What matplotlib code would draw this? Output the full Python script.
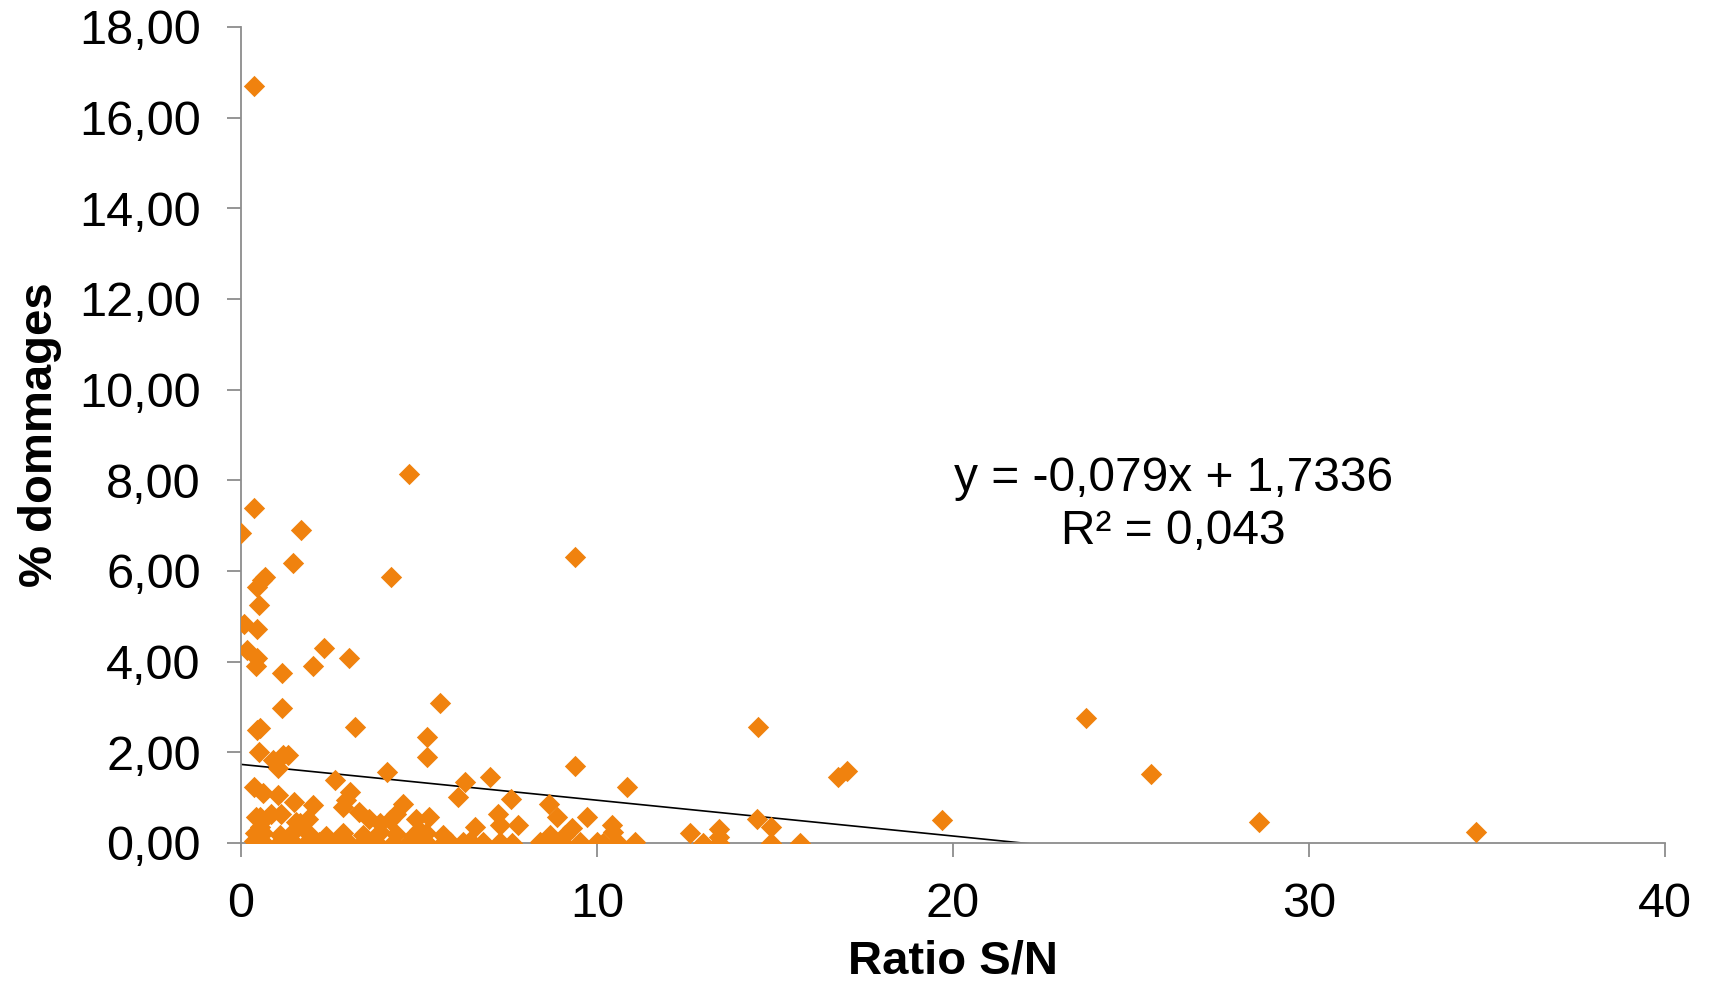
import matplotlib.pyplot as plt
from matplotlib.ticker import FuncFormatter

# points (Ratio S/N, % dommages)
ratio_sn = [
    0.37, 4.73, 0.37, 0.00, 1.69, 1.47, 9.38, 4.20, 0.67, 0.60,
    0.44, 0.49, 0.09, 0.44, 2.34, 3.04, 0.16, 0.44, 0.42, 2.03,
    1.14, 5.59, 1.14, 3.20, 14.53, 23.74, 0.44, 0.53, 5.21, 5.21,
    0.49, 0.91, 1.19, 1.33, 1.05, 9.38, 25.55, 4.09, 6.98, 6.29,
    2.64, 16.78, 17.01, 10.83, 6.10, 19.68, 28.60, 34.70, 14.49, 14.88,
    14.88, 15.70, 12.61, 12.97, 13.43, 13.43, 13.43,
    0.37, 0.61, 1.03, 3.06, 1.50, 2.01, 2.86, 2.95,
    0.52, 1.12, 1.55, 1.87, 0.43, 0.58, 0.83, 1.66,
    3.32, 3.60, 3.89, 4.54, 4.35, 4.17, 4.92, 5.29, 5.01,
    7.58, 8.65, 7.23, 8.87, 9.71, 6.57, 7.28, 7.79, 9.29, 10.41,
    10.46, 8.68, 9.10,
    0.61, 1.08, 1.45, 1.92, 2.39, 2.86, 3.42, 3.89, 4.35, 4.82, 5.20, 5.66,
    0.61, 1.08, 1.45, 1.83, 2.20, 2.67, 3.04, 3.42, 3.79, 4.26, 4.73, 5.20, 5.66,
    5.87, 6.24, 6.43, 6.81, 7.28, 7.60, 8.40, 8.77, 9.05, 9.52, 9.99, 10.18,
    10.55, 11.07,
    0.40, 0.52, 0.35,
]
dommages = [
    16.70, 8.15, 7.40, 6.83, 6.90, 6.17, 6.31, 5.87, 5.87, 5.80,
    5.65, 5.26, 4.84, 4.72, 4.31, 4.07, 4.26, 4.07, 3.90, 3.90,
    3.76, 3.08, 2.97, 2.56, 2.56, 2.75, 2.49, 2.54, 2.33, 1.90,
    2.01, 1.83, 1.94, 1.94, 1.65, 1.70, 1.52, 1.57, 1.46, 1.35,
    1.39, 1.46, 1.59, 1.23, 1.02, 0.51, 0.46, 0.24, 0.54, 0.36,
    0.00, 0.00, 0.21, 0.00, 0.31, 0.13, 0.00,
    1.24, 1.10, 1.06, 1.13, 0.91, 0.84, 0.80, 0.95,
    0.58, 0.65, 0.47, 0.54, 0.57, 0.48, 0.63, 0.43,
    0.69, 0.54, 0.43, 0.87, 0.65, 0.51, 0.54, 0.58, 0.29,
    0.96, 0.87, 0.65, 0.58, 0.58, 0.36, 0.40, 0.40, 0.32, 0.40,
    0.25, 0.18, 0.18,
    0.22, 0.18, 0.24, 0.20, 0.15, 0.22, 0.18, 0.25, 0.20, 0.16, 0.22, 0.18,
    0.02, 0.03, 0.02, 0.01, 0.03, 0.02, 0.01, 0.03, 0.02, 0.01, 0.03, 0.02, 0.01,
    0.03, 0.02, 0.04, 0.02, 0.03, 0.01, 0.02, 0.03, 0.01, 0.03, 0.02, 0.01,
    0.02, 0.02,
    0.22, 0.35, 0.05,
]

# linear trendline as printed on the chart
slope = -0.079
intercept = 1.7336
equation = "y = -0,079x + 1,7336\nR² = 0,043"

orange = "#F0820E"
grey = "#8C8C8C"

plt.rcParams["font.family"] = ["Liberation Sans", "DejaVu Sans"]

fig = plt.figure(figsize=(17.11, 9.84), dpi=100)
ax = fig.add_axes([0.1409, 0.1433, 0.9731 - 0.1409, 0.9726 - 0.1433])

ax.scatter(ratio_sn, dommages, marker="D", s=118, color=orange,
           linewidths=0, zorder=3)

x_line = [0, max(ratio_sn)]
y_line = [intercept + slope * v for v in x_line]
ax.plot(x_line, y_line, color="black", lw=1.2, zorder=2)

ax.text(26.2, 7.45, equation, fontsize=34.5, ha="center", va="center",
        linespacing=1.24)

ax.set_xlim(0, 40)
ax.set_ylim(0, 18)
ax.set_xticks(range(0, 41, 10))
ax.set_yticks(range(0, 19, 2))
ax.yaxis.set_major_formatter(FuncFormatter(lambda v, p: f"{v:.2f}".replace(".", ",")))

for side in ["top", "right"]:
    ax.spines[side].set_visible(False)
for side in ["left", "bottom"]:
    ax.spines[side].set_color(grey)
    ax.spines[side].set_linewidth(1.3)

ax.tick_params(axis="both", direction="out", length=10, width=1.3,
               color=grey, labelsize=35)
ax.tick_params(axis="y", pad=19)
ax.tick_params(axis="x", pad=18)

ax.set_xlabel("Ratio S/N", fontsize=34, fontweight="bold", labelpad=9)
ax.set_ylabel("% dommages", fontsize=34, fontweight="bold", labelpad=12)

fig.savefig("out.png", dpi=100)
